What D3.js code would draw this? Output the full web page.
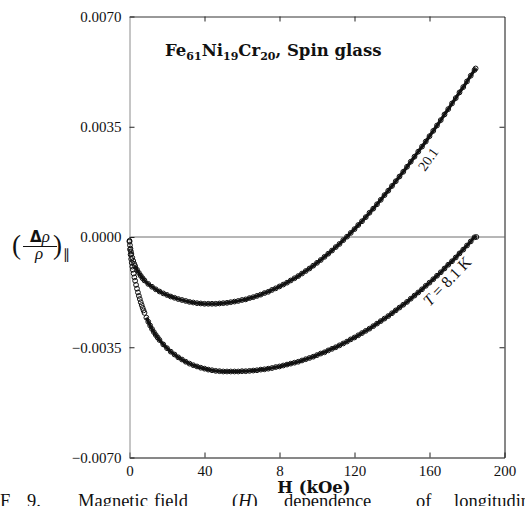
<!DOCTYPE html>
<html>
<head>
<meta charset="utf-8">
<script src="https://cdn.jsdelivr.net/npm/d3@7"></script>
<style>
  html, body { margin: 0; padding: 0; background: #fff; }
  svg { display: block; }
</style>
</head>
<body>
<svg id="chart" width="525" height="506"></svg>
<script>
// ---------- data ----------
const xTicks = [0, 40, 80, 120, 160, 200];
const xTickLabels = ["0", "40", "8", "120", "160", "200"];
const yTicks = [0.007, 0.0035, 0, -0.0035, -0.007];
const yTickLabels = ["0.0070", "0.0035", "0.0000", "\u22120.0035", "\u22120.0070"];

// T = 20.1 K
const h20 = [0, 0.25, 0.5, 0.75, 1, 1.5, 2, 2.5, 3, 4, 5, 6, 7, 8, 10, 12, 14, 16, 18, 20,
  22, 24, 26, 28, 30, 32, 34, 36, 38, 40, 42, 44, 46, 48, 50, 52, 54, 56, 58, 60,
  62, 64, 66, 68, 70, 72, 74, 76, 78, 80, 82, 84, 86, 88, 90, 92, 94, 96, 98, 100,
  102, 104, 106, 108, 110, 112, 114, 116, 118, 120, 122, 124, 126, 128, 130, 132, 134, 136, 138, 140,
  142, 144, 146, 148, 150, 152, 154, 156, 158, 160, 162, 164, 166, 168, 170, 172, 174, 176, 178, 180,
  182, 184, 184.6];
const v20 = [-0.00012, -0.00026, -0.00037, -0.00046, -0.00054, -0.00066, -0.00076, -0.00085, -0.00092, -0.00104,
  -0.00114, -0.00123, -0.00131, -0.00138, -0.00149, -0.00158, -0.00166, -0.00173, -0.00179, -0.00184,
  -0.00189, -0.00193, -0.00197, -0.00200, -0.00203, -0.00206, -0.00208, -0.00210, -0.00211, -0.00212,
  -0.00212, -0.00212, -0.00212, -0.00211, -0.00210, -0.00209, -0.00207, -0.00205, -0.00203, -0.00200,
  -0.00198, -0.00194, -0.00191, -0.00187, -0.00183, -0.00178, -0.00174, -0.00168, -0.00163, -0.00157,
  -0.00151, -0.00145, -0.00138, -0.00131, -0.00124, -0.00116, -0.00108, -0.00100, -0.00091, -0.00082,
  -0.00073, -0.00063, -0.00053, -0.00043, -0.00032, -0.00022, -0.00010, 0.00001, 0.00013, 0.00025,
  0.00038, 0.00050, 0.00063, 0.00077, 0.00090, 0.00104, 0.00118, 0.00133, 0.00147, 0.00162,
  0.00177, 0.00192, 0.00207, 0.00223, 0.00239, 0.00255, 0.00271, 0.00287, 0.00303, 0.00320,
  0.00337, 0.00354, 0.00371, 0.00389, 0.00406, 0.00424, 0.00441, 0.00459, 0.00476, 0.00494,
  0.00512, 0.00530, 0.00535];

// T = 8.1 K
const h8 = [0, 0.3, 0.6, 0.9, 1.2, 1.5, 1.8, 2.2, 2.6, 3.0, 3.5, 4.0, 4.5, 5.0, 5.5, 6.0, 6.5, 7.0, 7.5, 8,
  9, 10, 11, 12, 13, 14, 15, 16, 18, 20, 22, 24, 26, 28, 30, 32, 34, 36, 38, 40,
  42, 44, 46, 48, 50, 52, 54, 56, 58, 60, 62, 64, 66, 68, 70, 72, 74, 76, 78, 80,
  82, 84, 86, 88, 90, 92, 94, 96, 98, 100, 102, 104, 106, 108, 110, 112, 114, 116, 118, 120,
  122, 124, 126, 128, 130, 132, 134, 136, 138, 140, 142, 144, 146, 148, 150, 152, 154, 156, 158, 160,
  162, 164, 166, 168, 170, 172, 174, 176, 178, 180, 182, 184, 185];
const v8 = [-0.00015, -0.00040, -0.00056, -0.00070, -0.00082, -0.00094, -0.00104, -0.00116, -0.00128, -0.00139,
  -0.00152, -0.00164, -0.00176, -0.00187, -0.00197, -0.00207, -0.00216, -0.00225, -0.00233, -0.00241,
  -0.00256, -0.00269, -0.00281, -0.00292, -0.00302, -0.00311, -0.00319, -0.00327, -0.00341, -0.00353,
  -0.00364, -0.00373, -0.00382, -0.00389, -0.00396, -0.00402, -0.00407, -0.00411, -0.00415, -0.00418,
  -0.00421, -0.00423, -0.00425, -0.00426, -0.00427, -0.00427, -0.00427, -0.00427, -0.00427, -0.00426,
  -0.00426, -0.00425, -0.00424, -0.00423, -0.00421, -0.00420, -0.00418, -0.00416, -0.00413, -0.00411,
  -0.00408, -0.00405, -0.00402, -0.00399, -0.00396, -0.00392, -0.00388, -0.00384, -0.00380, -0.00375,
  -0.00370, -0.00366, -0.00360, -0.00355, -0.00350, -0.00344, -0.00338, -0.00332, -0.00325, -0.00319,
  -0.00312, -0.00305, -0.00298, -0.00291, -0.00283, -0.00275, -0.00267, -0.00259, -0.00251, -0.00242,
  -0.00233, -0.00224, -0.00215, -0.00206, -0.00196, -0.00186, -0.00176, -0.00166, -0.00155, -0.00145,
  -0.00134, -0.00123, -0.00112, -0.00100, -0.00088, -0.00077, -0.00065, -0.00052, -0.00040, -0.00027,
  -0.00014, -0.00001, 0.00000];

const seriesLabels = ["20.1", "T = 8.1 K"];

// ---------- layout ----------
const svg = d3.select("#chart");
const L = 129.5, R = 504.5, T = 16.5, B = 457.5;
const x = d3.scaleLinear().domain([0, 200]).range([L, R]);
const y = d3.scaleLinear().domain([-0.007, 0.007]).range([B, T]);
const serif = "'Liberation Serif', 'Times New Roman', serif";
const bserif = "'DejaVu Serif', serif";

// zero line
svg.append("line")
  .attr("x1", L).attr("x2", R).attr("y1", y(0)).attr("y2", y(0))
  .attr("stroke", "#6e6e6e").attr("stroke-width", 1);

// axes
function styleAxis(g, col) {
  g.selectAll("path.domain").attr("stroke", col).attr("stroke-width", 1);
  g.selectAll(".tick line").attr("stroke", "#222");
  g.selectAll("text").attr("font-family", serif).attr("font-size", 15).attr("fill", "#111");
}
const gB = svg.append("g").attr("transform", `translate(0,${B})`)
  .call(d3.axisBottom(x).tickValues(xTicks).tickSize(-5).tickSizeOuter(0).tickPadding(8)
    .tickFormat((d, i) => xTickLabels[i]));
styleAxis(gB, "#111");
const gT = svg.append("g").attr("transform", `translate(0,${T})`)
  .call(d3.axisTop(x).tickValues(xTicks.slice(1, -1)).tickSize(-5).tickSizeOuter(0).tickFormat(""));
styleAxis(gT, "#333");
const gL = svg.append("g").attr("transform", `translate(${L},0)`)
  .call(d3.axisLeft(y).tickValues(yTicks).tickSize(-5).tickSizeOuter(0).tickPadding(8)
    .tickFormat((d, i) => yTickLabels[i]));
styleAxis(gL, "#8c8c8c");
const gR = svg.append("g").attr("transform", `translate(${R},0)`)
  .call(d3.axisRight(y).tickValues([0.0035, -0.0035]).tickSize(-5).tickSizeOuter(0).tickFormat(""));
styleAxis(gR, "#111");

// series
function drawSeries(hs, vs, lineFrom) {
  const pts = hs.map((h, i) => ({ h: h, v: vs[i] }));
  const line = d3.line().defined(d => d.h >= lineFrom)
    .x(d => x(d.h)).y(d => y(d.v)).curve(d3.curveMonotoneX);
  svg.append("path").datum(pts).attr("d", line)
    .attr("fill", "none").attr("stroke", "#111").attr("stroke-width", 3.2);
  svg.append("g").selectAll("circle").data(pts).join("circle")
    .attr("cx", d => x(d.h)).attr("cy", d => y(d.v)).attr("r", 2.4)
    .attr("fill", "none").attr("stroke", "#111").attr("stroke-width", 1);
}
drawSeries(h20, v20, 3);
drawSeries(h8, v8, 9);

// curve labels
svg.append("text").attr("transform", "translate(432,162) rotate(-55)")
  .attr("text-anchor", "middle").attr("font-family", serif).attr("font-size", 14)
  .attr("fill", "#111").text(seriesLabels[0]);
const tl = svg.append("text").attr("transform", "translate(451,285) rotate(-46)")
  .attr("text-anchor", "middle").attr("font-family", serif).attr("font-size", 16)
  .attr("fill", "#111");
tl.append("tspan").attr("font-style", "italic").text("T");
tl.append("tspan").text(" = 8.1 K");

// title
const title = svg.append("text").attr("x", 165).attr("y", 56)
  .attr("font-family", bserif).attr("font-weight", "bold").attr("font-size", 16.5).attr("fill", "#111");
[["Fe", false], ["61", true], ["Ni", false], ["19", true], ["Cr", false], ["20", true], [", Spin glass", false]]
  .forEach(([t, sub]) => {
    const s = title.append("tspan").text(t);
    if (sub) s.attr("font-size", 11).attr("dy", 4);
    else s.attr("dy", title.selectAll("tspan").size() > 1 ? -4 : 0);
  });

// y label  (Δρ/ρ)∥
const yl = svg.append("g").attr("fill", "#111");
yl.append("text").attr("x", 12).attr("y", 254).attr("font-family", serif).attr("font-size", 27).text("(");
const num = yl.append("text").attr("x", 40).attr("y", 242).attr("text-anchor", "middle")
  .attr("font-family", serif).attr("font-size", 17);
num.append("tspan").attr("font-family", "'DejaVu Sans', sans-serif").attr("font-weight", "bold").attr("font-size", 15).text("\u0394");
num.append("tspan").attr("font-style", "italic").text("\u03C1");
yl.append("line").attr("x1", 23).attr("x2", 57).attr("y1", 246.5).attr("y2", 246.5)
  .attr("stroke", "#111").attr("stroke-width", 1.1);
yl.append("text").attr("x", 39).attr("y", 259).attr("text-anchor", "middle")
  .attr("font-family", serif).attr("font-style", "italic").attr("font-size", 17).text("\u03C1");
yl.append("text").attr("x", 53).attr("y", 254).attr("font-family", serif).attr("font-size", 27).text(")");
yl.append("text").attr("x", 63).attr("y", 259).attr("font-family", serif).attr("font-size", 14).text("\u2225");

// x label
svg.append("text").attr("x", 314).attr("y", 493).attr("text-anchor", "middle")
  .attr("font-family", bserif).attr("font-weight", "bold").attr("font-size", 16.5)
  .attr("fill", "#111").text("H (kOe)");

// caption (clipped by the bottom edge)
const capWords = [["F", 0], ["9.", 27], ["Magnetic", 78], ["field", 154], ["(H)", 232], ["dependence", 284], ["of", 416], ["longitudinal", 454]];
capWords.forEach(([w, px]) => {
  const t = svg.append("text").attr("x", px).attr("y", 507).attr("font-family", serif)
    .attr("font-size", 18.5).attr("fill", "#111");
  if (w === "(H)") {
    t.append("tspan").text("(");
    t.append("tspan").attr("font-style", "italic").text("H");
    t.append("tspan").text(")");
  } else t.text(w);
});
</script>
</body>
</html>
